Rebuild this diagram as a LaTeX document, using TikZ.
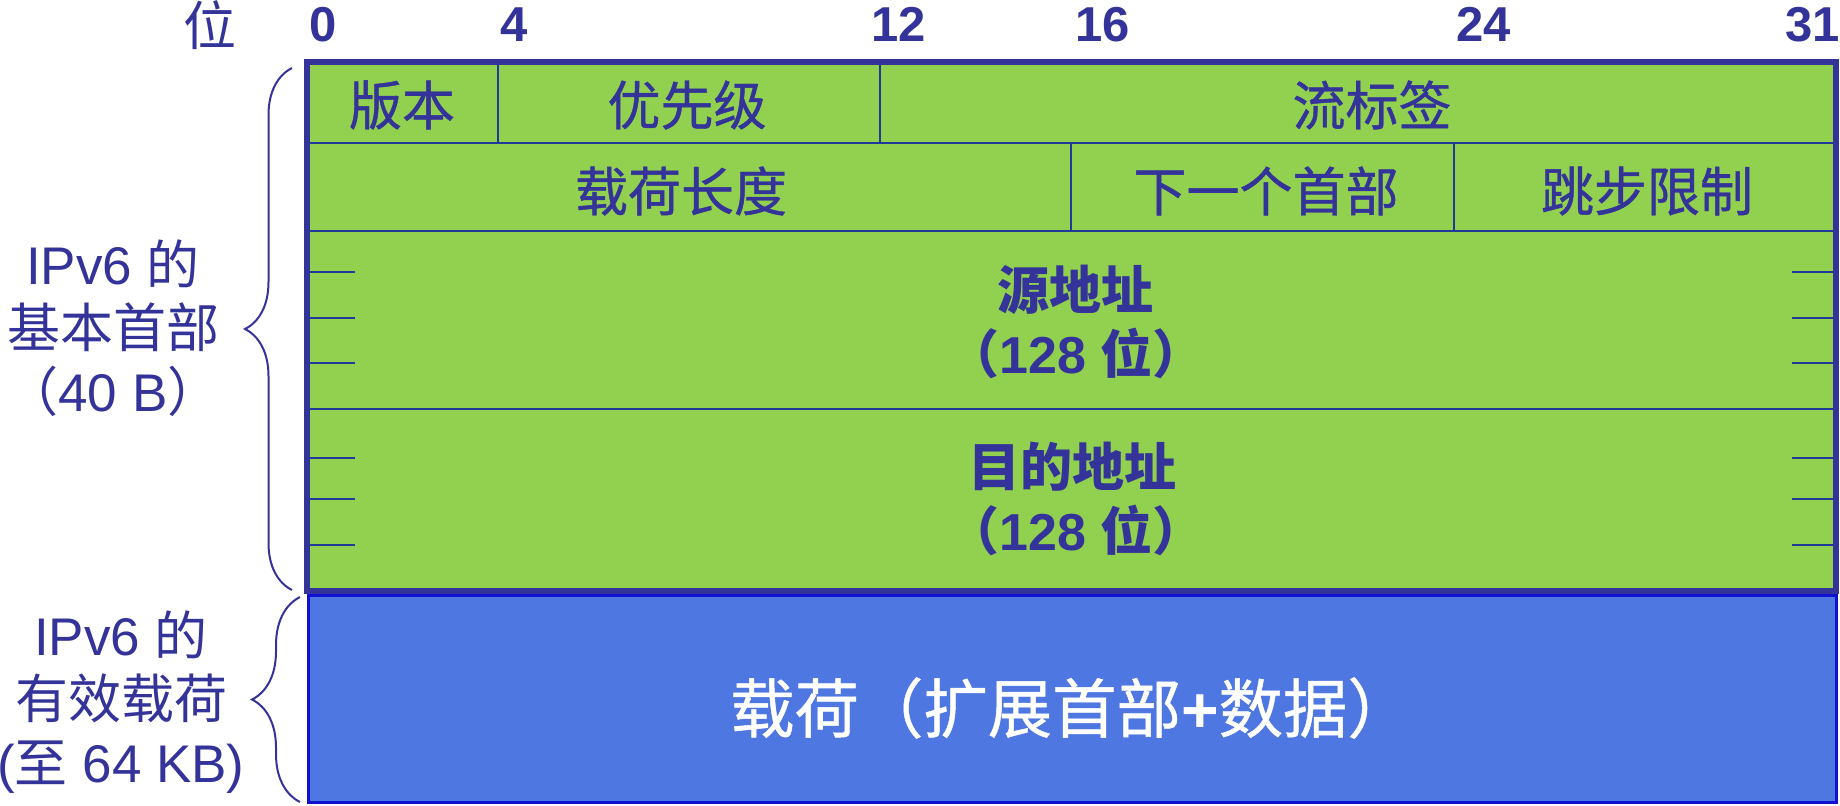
\documentclass[tikz,border=0pt]{standalone}
\usepackage{fontspec}
\setmainfont{Liberation Sans}
\newfontfamily\cjk{Noto Sans CJK SC}
\newfontfamily\cjkh[FakeBold=0.8]{Noto Sans CJK SC}
\usetikzlibrary{decorations.pathreplacing}
\definecolor{navy}{HTML}{333399}
\definecolor{linec}{HTML}{203A9A}
\definecolor{hgreen}{HTML}{92D050}
\definecolor{pblue}{HTML}{4E77E2}
\definecolor{pborder}{HTML}{1010D0}
\tikzset{
  outerframe/.style={draw=navy, line width=3pt},
  innerline/.style={draw=linec, line width=1.3pt},
  bitnum/.style={inner sep=0pt, text=navy, font=\fontsize{24.5}{28}\selectfont\bfseries},
  cell/.style={inner sep=0pt, text=navy, font=\fontsize{26.5}{30}\selectfont\cjkh},
  addr/.style={inner sep=0pt, text=navy, font=\fontsize{26}{30}\selectfont\bfseries},
  sidelabel/.style={inner sep=0pt, text=navy, align=center, font=\fontsize{26.5}{31.8}\selectfont},
  bracestyle/.style={draw=navy, line width=1pt, decorate, decoration={brace, amplitude=23.5pt, aspect=0.5}},
}
\begin{document}
\begin{tikzpicture}[x=0.5pt,y=-0.5pt]
\useasboundingbox (0,0) rectangle (1840,805);
% header box
\fill[hgreen] (307,62) rectangle (1836,591);
% payload box
\fill[pblue, draw=pborder, line width=1.5pt] (308,595) rectangle (1836,802);
% inner lines
\draw[innerline] (307,143) -- (1836,143);
\draw[innerline] (307,231) -- (1836,231);
\draw[innerline] (307,409) -- (1836,409);
\draw[innerline] (498,62) -- (498,143);
\draw[innerline] (880,62) -- (880,143);
\draw[innerline] (1071,143) -- (1071,231);
\draw[innerline] (1454,143) -- (1454,231);
\foreach \yy in {272,318,363,458,499,545}{
  \draw[innerline] (307,\yy) -- (355,\yy);
  \draw[innerline] (1792,\yy) -- (1836,\yy);
}
\draw[outerframe] (307,62) rectangle (1836,591);
% bit numbers
\node[bitnum, anchor=base west] (n0) at (309,41.5) {0};
\node[bitnum, anchor=base west] (n4) at (500,41.5) {4};
\node[bitnum, anchor=base west] (n12) at (871,41.5) {12};
\node[bitnum, anchor=base west] (n16) at (1075,41.5) {16};
\node[bitnum, anchor=base west] (n24) at (1456,41.5) {24};
\node[bitnum, anchor=base east] (n31) at (1840,41.5) {31};
\node[cell, font=\fontsize{26.5}{30}\selectfont\cjk, anchor=center] (wei) at (210,25) {位};
% row 1
\node[cell] (ver) at (402,105) {版本};
\node[cell] (prio) at (687,105) {优先级};
\node[cell] (flow) at (1372,105) {流标签};
% row 2
\node[cell] (plen) at (681,191) {载荷长度};
\node[cell] (next) at (1266,191) {下一个首部};
\node[cell] (hop) at (1647,191) {跳步限制};
% addresses
\node[addr] (src) at (1075,290) {\cjk 源地址};
\node[addr] (srcb) at (1076,353) {{\cjk （}128 {\cjk 位）}};
\node[addr] (dst) at (1072,467) {\cjk 目的地址};
\node[addr] (dstb) at (1076,530) {{\cjk （}128 {\cjk 位）}};
% payload
\node[inner sep=0pt, text=white, font=\fontsize{32.2}{36}\selectfont] (pay) at (1071,708) {{\cjkh 载荷（扩展首部}\textbf{+}{\cjkh 数据）}};
% side labels
\node[sidelabel] (hdrlab) at (113,328) {IPv6 {\cjk 的}\\{\cjk 基本首部}\\{\cjk （}40 B{\cjk ）}};
\node[sidelabel] (paylab) at (121,702) {IPv6 {\cjk 的}\\{\cjk 有效载荷}\\({\cjk 至} 64 KB)};
% braces
\coordinate (b1s) at (292,590);
\coordinate (b1e) at (292,68);
\coordinate (b2s) at (300,802);
\coordinate (b2e) at (300,597);
\draw[bracestyle] (b1s) -- (b1e);
\draw[bracestyle, decoration={brace, amplitude=24pt, aspect=0.5}] (b2s) -- (b2e);
\end{tikzpicture}
\end{document}
